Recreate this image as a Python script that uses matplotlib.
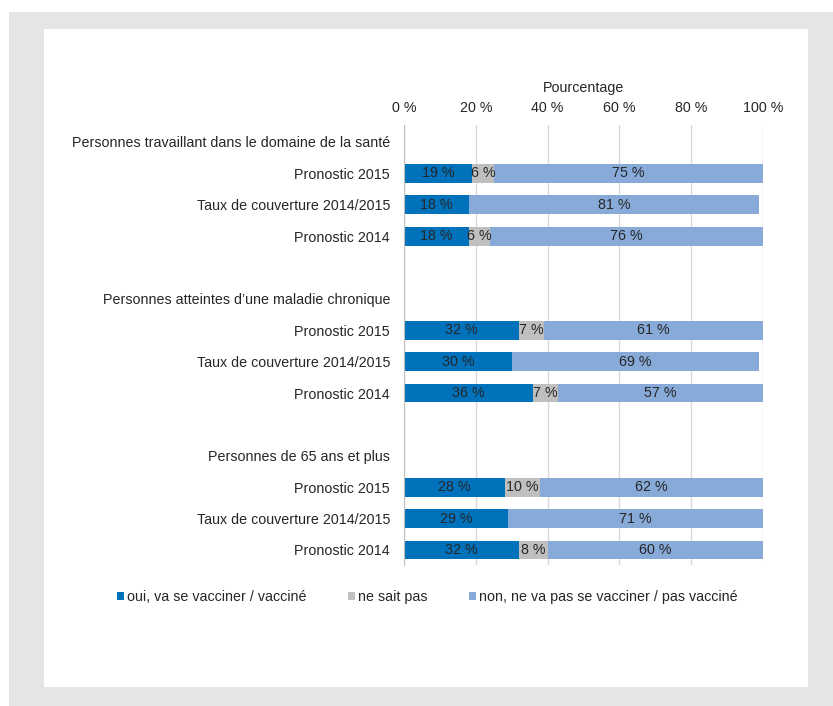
import matplotlib
matplotlib.use("Agg")
import matplotlib.pyplot as plt
import numpy as np
from matplotlib.patches import Rectangle

plt.rcParams["font.family"] = ["Liberation Sans", "DejaVu Sans"]

groups = [
    "Personnes travaillant dans le domaine de la santé",
    "Personnes atteintes d\u2019une maladie chronique",
    "Personnes de 65 ans et plus",
]
rows = ["Pronostic 2015", "Taux de couverture 2014/2015", "Pronostic 2014"]

# values per group, in row order
oui = [[19, 18, 18], [32, 30, 36], [28, 29, 32]]
ne_sait_pas = [[6, 0, 6], [7, 0, 7], [10, 0, 8]]
non = [[75, 81, 76], [61, 69, 57], [62, 71, 60]]

series_names = ["oui, va se vacciner / vacciné", "ne sait pas",
                "non, ne va pas se vacciner / pas vacciné"]
colors = ["#0072bc", "#bfbfbf", "#87aad8"]
ticks = [0, 20, 40, 60, 80, 100]

FS = 10.3

fig = plt.figure(figsize=(8.33, 7.06), dpi=100)
fig.patch.set_facecolor("white")
# grey frame with white panel
fig.patches.append(Rectangle((9 / 833, 0), 1, 1 - 12 / 706, transform=fig.transFigure,
                             facecolor="#e4e5e7", edgecolor="none", zorder=-2))
fig.patches.append(Rectangle((44 / 833, 1 - 687 / 706), (808 - 44) / 833, (687 - 29) / 706,
                             transform=fig.transFigure, facecolor="white",
                             edgecolor="none", zorder=-1))

ax = fig.add_axes([404 / 833, 1 - 565 / 706, (763 - 404) / 833, (565 - 125) / 706])
ax.set_facecolor("none")

labels, ypos = [], []
pos = 0
bar_y, bar_vals = [], []
for g, name in enumerate(groups):
    labels.append(name)
    ypos.append(pos)
    pos += 1
    for r, rname in enumerate(rows):
        labels.append(rname)
        ypos.append(pos)
        bar_y.append(pos)
        bar_vals.append((oui[g][r], ne_sait_pas[g][r], non[g][r]))
        pos += 1
    pos += 1

bar_y = np.array(bar_y)
vals = np.array(bar_vals, dtype=float)
left = np.zeros(len(bar_y))
for k in range(3):
    bars = ax.barh(bar_y, vals[:, k], left=left, height=0.6, color=colors[k],
                   label=series_names[k], zorder=3)
    for b, v in zip(bars, vals[:, k]):
        if v > 0:
            ax.text(b.get_x() + b.get_width() / 2, b.get_y() + b.get_height() / 2,
                    f"{v:.0f} %", ha="center", va="center", fontsize=FS,
                    color="#262626", zorder=4)
    left += vals[:, k]

ax.set_xlim(0, 100)
ax.set_ylim(13.48, -0.54)
ax.xaxis.tick_top()
ax.xaxis.set_label_position("top")
ax.set_xticks(ticks)
ax.set_xticklabels([f"{t} %" for t in ticks], fontsize=FS, color="#262626")
ax.set_xlabel("Pourcentage", fontsize=FS, color="#262626", labelpad=7)
ax.tick_params(axis="x", length=0, pad=7)
ax.set_yticks(ypos)
ax.set_yticklabels(labels, fontsize=FS, color="#262626")
ax.tick_params(axis="y", length=0, pad=10)
ax.grid(axis="x", color="#d9d9d9", linewidth=1, zorder=0)
for s in ["top", "right", "bottom"]:
    ax.spines[s].set_visible(False)
ax.spines["left"].set_color("#bfbfbf")
ax.spines["left"].set_zorder(5)

ax.legend(loc="center", bbox_to_anchor=(427 / 833, 1 - 597 / 706),
          bbox_transform=fig.transFigure, ncol=3, frameon=False, fontsize=FS,
          handlelength=0.5, handleheight=0.5, handletextpad=0.2,
          columnspacing=2.9, labelcolor="#262626")

fig.savefig("out.png", dpi=100)
